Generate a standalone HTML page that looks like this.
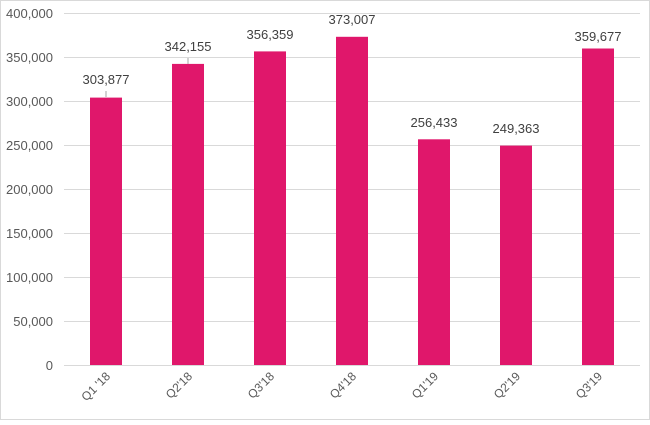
<!DOCTYPE html><html><head><style>body{margin:0}</style></head><body>
<svg width="650" height="420" xmlns="http://www.w3.org/2000/svg" font-family="Liberation Sans, sans-serif">
<rect x="0.5" y="0.5" width="649" height="419" fill="#fff" stroke="#d9d9d9"/>
<g stroke="#d9d9d9" stroke-width="1">
<line x1="64" x2="640" y1="13.5" y2="13.5"/><line x1="64" x2="640" y1="57.5" y2="57.5"/><line x1="64" x2="640" y1="101.5" y2="101.5"/><line x1="64" x2="640" y1="145.5" y2="145.5"/><line x1="64" x2="640" y1="189.5" y2="189.5"/><line x1="64" x2="640" y1="233.5" y2="233.5"/><line x1="64" x2="640" y1="277.5" y2="277.5"/><line x1="64" x2="640" y1="321.5" y2="321.5"/><line x1="64" x2="640" y1="365.5" y2="365.5"/>
</g>
<g font-size="13" fill="#595959" text-anchor="end">
<text x="53" y="18">400,000</text><text x="53" y="62">350,000</text><text x="53" y="106">300,000</text><text x="53" y="150">250,000</text><text x="53" y="194">200,000</text><text x="53" y="238">150,000</text><text x="53" y="282">100,000</text><text x="53" y="326">50,000</text><text x="53" y="370">0</text>
</g>
<g fill="#E0176B">
<rect x="90" y="97.6" width="32" height="267.4"/>
<rect x="172" y="63.9" width="32" height="301.1"/>
<rect x="254" y="51.4" width="32" height="313.6"/>
<rect x="336" y="36.8" width="32" height="328.2"/>
<rect x="418" y="139.3" width="32" height="225.7"/>
<rect x="500" y="145.6" width="32" height="219.4"/>
<rect x="582" y="48.5" width="32" height="316.5"/>
</g>
<g stroke="#a6a6a6"><line x1="106" x2="106" y1="91" y2="97"/><line x1="188" x2="188" y1="58" y2="64"/></g>
<g font-size="13" fill="#404040" text-anchor="middle">
<text x="106" y="84">303,877</text><text x="188" y="51">342,155</text><text x="270" y="39">356,359</text><text x="352" y="24">373,007</text><text x="434" y="127">256,433</text><text x="516" y="133">249,363</text><text x="598" y="41">359,677</text>
</g>
<g font-size="12" fill="#595959" text-anchor="end">
<text transform="translate(111,377) rotate(-45)">Q1 '18</text>
<text transform="translate(193,377) rotate(-45)">Q2'18</text>
<text transform="translate(275,377) rotate(-45)">Q3'18</text>
<text transform="translate(357,377) rotate(-45)">Q4'18</text>
<text transform="translate(439,377) rotate(-45)">Q1'19</text>
<text transform="translate(521,377) rotate(-45)">Q2'19</text>
<text transform="translate(603,377) rotate(-45)">Q3'19</text>
</g>
</svg>
</body></html>
